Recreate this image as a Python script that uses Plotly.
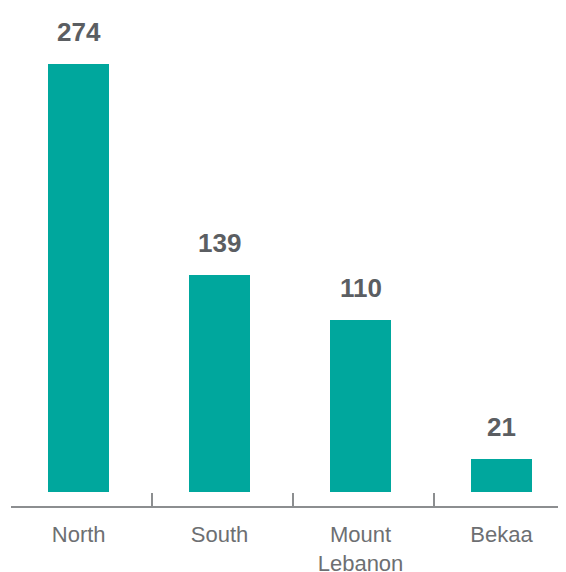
import plotly.graph_objects as go

regions = ["North", "South", "Mount<br>Lebanon", "Bekaa"]
values = [274, 139, 110, 21]
positions = [0, 1, 2, 3]
tick_bounds = [0.52, 1.52, 2.52]

bar_color = "#00A79D"
text_color = "#5B5E62"
label_color = "#6D6F72"
axis_color = "#8C8E90"
font_family = "Liberation Sans, Arial, sans-serif"

fig = go.Figure()
fig.add_trace(go.Bar(
    x=positions, y=values, width=0.433,
    marker=dict(color=bar_color, line=dict(width=0)),
    hoverinfo="skip",
))
# invisible trace to attach the boundary-tick axis
fig.add_trace(go.Scatter(x=[positions[0]], y=[0], xaxis="x2", mode="markers",
                         marker=dict(opacity=0), hoverinfo="skip", showlegend=False))

for xv, v in zip(positions, values):
    fig.add_annotation(x=xv, y=v, text=f"<b>{v}</b>", showarrow=False,
                       yanchor="bottom", yshift=15,
                       font=dict(family=font_family, size=26, color=text_color))

xr = [-0.48, 3.458]
# page body has an 8px margin: figure is sized/offset to compensate
fig.update_layout(
    width=558, height=564,
    margin=dict(l=3, r=0, t=0, b=66, autoexpand=False),
    paper_bgcolor="white", plot_bgcolor="white",
    showlegend=False,
    bargap=0,
    xaxis=dict(range=xr, tickvals=positions, ticktext=regions, ticks="",
               showline=True, linecolor=axis_color, linewidth=2, automargin=False,
               showgrid=False, zeroline=False, ticklabelstandoff=8,
               tickfont=dict(family=font_family, size=22, color=label_color)),
    xaxis2=dict(range=xr, overlaying="x", anchor="y", side="bottom", automargin=False,
                tickvals=tick_bounds, ticks="inside", ticklen=13, tickwidth=2,
                tickcolor=axis_color, showticklabels=False, showgrid=False,
                zeroline=False, showline=False),
    yaxis=dict(range=[-8.97, 309.9], visible=False, showgrid=False, zeroline=False,
               automargin=False),
)

fig.write_html("out.html")
